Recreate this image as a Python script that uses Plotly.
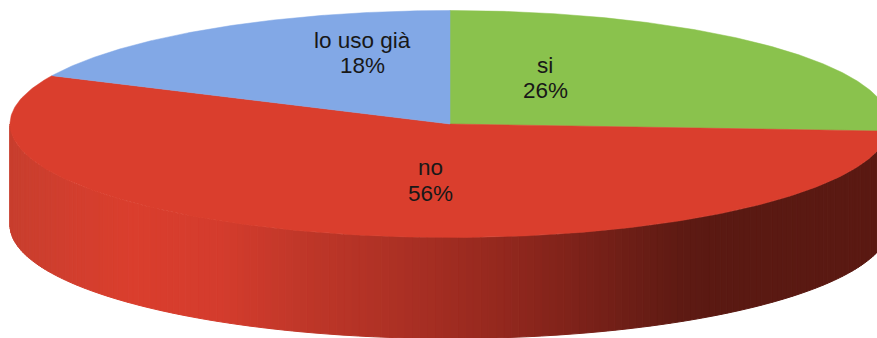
import numpy as np
import plotly.graph_objects as go

# Survey answers, clockwise from twelve o'clock
categories = ["si", "no", "lo uso già"]
percentages = [26, 56, 18]
slice_colors = ["#8AC24D", "#DA3E2D", "#82A8E6"]

# Label centres on the page: name line and percentage line
label_x = [545, 430, 362]
name_y = [65, 167, 40]
percent_y = [90, 193, 65]

# Wall shading of the red slice, left to right
wall_x = [10, 60, 130, 220, 300, 400, 500, 600, 680, 720, 890]
wall_colors = [
    (200, 62, 46), (208, 62, 46), (218, 62, 45), (212, 60, 45), (192, 55, 41),
    (172, 48, 36), (148, 40, 30), (118, 32, 24), (94, 26, 19), (90, 25, 18), (90, 25, 18),
]

CX, CY = 450.0, 124.0
RX, RY = 440.0, 113.5
DEPTH = 101.0
LABEL_FONT = dict(family="Liberation Sans, Arial, sans-serif", size=22.5, color="#181818")


def rim(theta):
    return CX + RX * np.sin(theta), CY - RY * np.cos(theta)


def shade(x):
    channels = np.array(wall_colors, dtype=float)
    r, g, b = (np.interp(x, wall_x, channels[:, i]) for i in range(3))
    return f"rgb({r:.0f},{g:.0f},{b:.0f})"


shares = np.array(percentages, dtype=float) / sum(percentages)
edges = np.concatenate([[0.0], np.cumsum(shares)]) * 2 * np.pi

fig = go.Figure()

# Outer wall: narrow vertical strips along the front half of the rim
front = np.linspace(np.pi / 2, 3 * np.pi / 2, 181)
for a, b in zip(front[:-1], front[1:]):
    tt = np.linspace(a, b, 3)
    xs, ys = rim(tt)
    color = shade(xs.mean())
    fig.add_trace(go.Scatter(
        x=np.concatenate([xs, xs[::-1], xs[:1]]),
        y=np.concatenate([ys, ys[::-1] + DEPTH, ys[:1]]),
        mode="lines", fill="toself", fillcolor=color,
        line=dict(color=color, width=1), hoverinfo="skip", showlegend=False,
    ))

# Top face wedges
for name, start, stop, color in zip(categories, edges[:-1], edges[1:], slice_colors):
    tt = np.linspace(start, stop, 240)
    xs, ys = rim(tt)
    fig.add_trace(go.Scatter(
        x=np.concatenate([[CX], xs, [CX]]),
        y=np.concatenate([[CY], ys, [CY]]),
        mode="lines", fill="toself", fillcolor=color,
        line=dict(color=color, width=0.5), name=name, hoverinfo="name", showlegend=False,
    ))

# Each label is two separate lines so the leading stays tight
for name, pct, x, y1, y2 in zip(categories, percentages, label_x, name_y, percent_y):
    for text, y in ((name, y1), (f"{pct}%", y2)):
        fig.add_annotation(
            x=x, y=y, text=text, showarrow=False, font=LABEL_FONT,
            xanchor="center", yanchor="middle", align="center",
        )

fig.update_layout(
    width=877, height=338,
    margin=dict(l=0, r=0, t=0, b=0),
    paper_bgcolor="white", plot_bgcolor="white",
    xaxis=dict(range=[0, 877], visible=False, fixedrange=True),
    yaxis=dict(range=[338, 0], visible=False, fixedrange=True),
)

fig.write_html("out.html", config={"displayModeBar": False})
